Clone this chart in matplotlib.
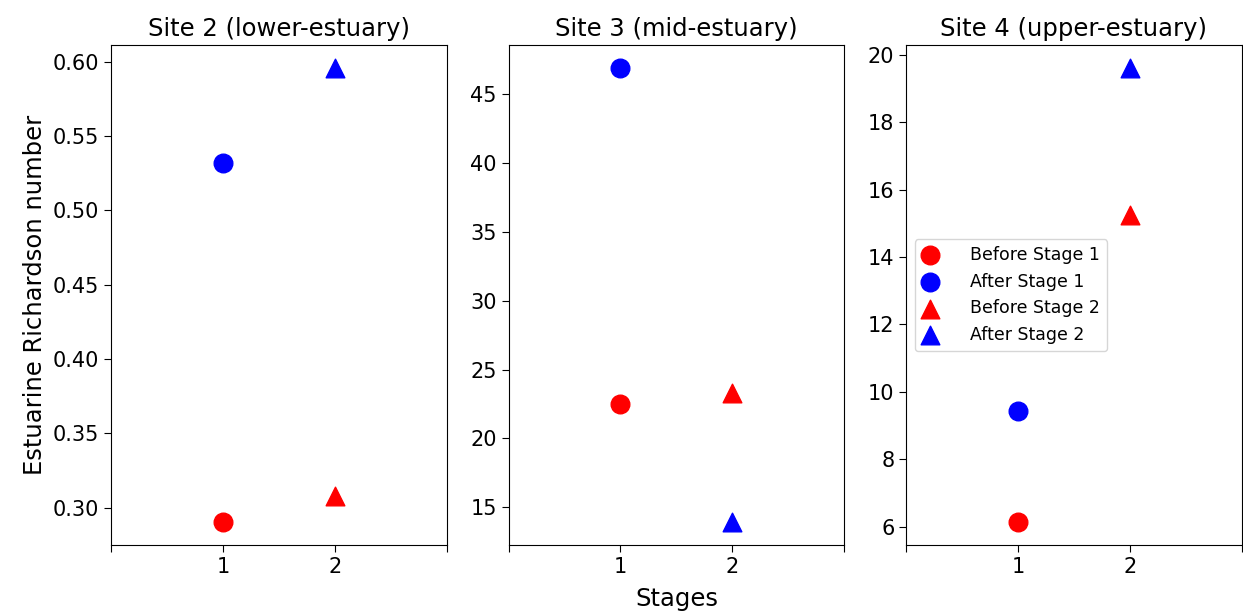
import matplotlib
matplotlib.use("Agg")
import matplotlib.pyplot as plt

# Estuarine Richardson number per site, before/after each stage
SITES = ["Site 2 (lower-estuary)", "Site 3 (mid-estuary)", "Site 4 (upper-estuary)"]
STAGES = [1, 2]
BEFORE_STAGE1 = [0.290, 22.5, 6.12]
AFTER_STAGE1 = [0.532, 46.93, 9.42]
BEFORE_STAGE2 = [0.308, 23.30, 15.25]
AFTER_STAGE2 = [0.596, 13.90, 19.62]

XTICKS = [0, 1, 2, 3]
XTICKLABELS = ["", "1", "2", ""]


def main():
    fig, axes = plt.subplots(1, 3, figsize=(12.43, 6.14), dpi=100)
    fig.subplots_adjust(left=0.0893, right=0.999, top=0.927, bottom=0.112, wspace=0.185)

    for i, ax in enumerate(axes):
        ax.scatter(STAGES[0], BEFORE_STAGE1[i], c="red", marker="o", s=180, label="Before Stage 1")
        ax.scatter(STAGES[0], AFTER_STAGE1[i], c="blue", marker="o", s=180, label="After Stage 1")
        ax.scatter(STAGES[1], BEFORE_STAGE2[i], c="red", marker="^", s=180, label="Before Stage 2")
        ax.scatter(STAGES[1], AFTER_STAGE2[i], c="blue", marker="^", s=180, label="After Stage 2")
        ax.set_title(SITES[i], fontsize=17.5)
        ax.set_xlim(0, 3)
        ax.set_xticks(XTICKS)
        ax.set_xticklabels(XTICKLABELS)
        ax.tick_params(labelsize=15, length=5)

    axes[0].set_ylabel("Estuarine Richardson number", fontsize=17.5)
    axes[1].set_xlabel("Stages", fontsize=17.5, labelpad=7)
    axes[2].legend(loc="center left", fontsize=12.5, handlelength=0.9, handletextpad=1.9)

    plt.savefig("out.png")


if __name__ == "__main__":
    main()
